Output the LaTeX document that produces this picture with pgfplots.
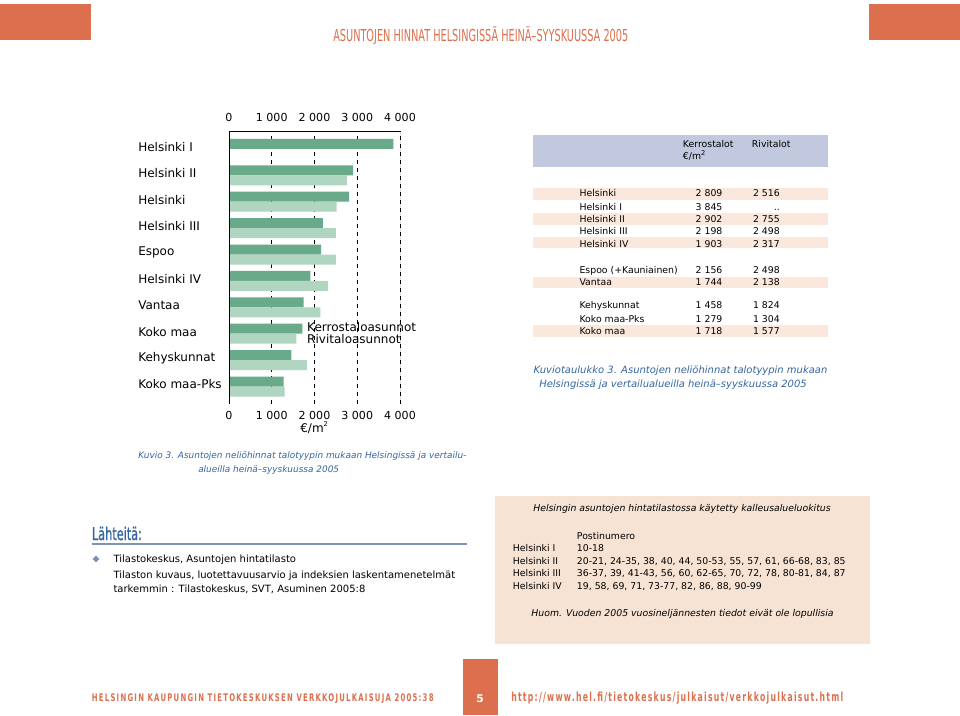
\documentclass[border=0pt]{standalone}
\usepackage{fontspec}
\setmainfont{DejaVu Sans}
\usepackage{graphicx}
\usepackage{pgfplots}
\pgfplotsset{compat=1.18}

\definecolor{darkbar}{RGB}{104,170,138}
\definecolor{lightbar}{RGB}{176,213,193}
\definecolor{hdrorange}{RGB}{220,112,78}
\definecolor{capblue}{RGB}{52,102,160}
\definecolor{tabhead}{RGB}{194,201,222}
\definecolor{tabrow}{RGB}{250,232,221}
\definecolor{boxfill}{RGB}{246,227,212}
\definecolor{rulegrey}{RGB}{128,146,178}
\definecolor{bulletc}{RGB}{128,142,190}

\newlength\px \setlength\px{0.75pt}
% width, height, phantom letter, text
\newcommand\fitbox[4]{\resizebox{#1\px}{#2\px}{\vphantom{#3}\smash{#4}}}
\newcommand\txt{\fontsize{7}{8.5}\selectfont}

\begin{document}
\begin{tikzpicture}
\begin{scope}[x=0.75pt,y=-0.75pt,shift={(0pt,536.25pt)}]
\fill[white] (0,0) rectangle (960,715);
\path[use as bounding box] (0,0) rectangle (960,715);
% header
\fill[hdrorange] (0,4) rectangle (91,40);
\fill[hdrorange] (869,4) rectangle (960,40);
\node[anchor=base west,inner sep=0,text=hdrorange] at (333,42)
  {\fitbox{295}{12}{A}{ASUNTOJEN HINNAT HELSINGISSÄ HEINÄ--SYYSKUUSSA 2005}};
% chart caption
\node[anchor=base west,inner sep=0,text=capblue,font=\fontsize{6.7}{8}\selectfont\itshape] at (138,458)
  {Kuvio 3. Asuntojen neliöhinnat talotyypin mukaan Helsingissä ja vertailu-};
\node[anchor=base west,inner sep=0,text=capblue,font=\fontsize{6.7}{8}\selectfont\itshape] at (198,472)
  {alueilla heinä--syyskuussa 2005};
% table
\fill[tabhead] (533,135) rectangle (828,167.5);
\foreach \a/\b in {188/200,213/225,237/248.5,277/288.5,325.5/337}
  \fill[tabrow] (533,\a) rectangle (828,\b);
\node[anchor=base west,inner sep=0,font=\txt] at (682.7,148) {Kerrostalot};
\node[anchor=base west,inner sep=0,font=\txt] at (682.7,160) {€/m\textsuperscript{\tiny 2}};
\node[anchor=base west,inner sep=0,font=\txt] at (751.7,148) {Rivitalot};
\foreach \lab/\yy/\k/\r in {Helsinki/193.3/2 809/2 516,Helsinki I/207/3 845/..,
  Helsinki II/219.3/2 902/2 755,Helsinki III/231.7/2 198/2 498,Helsinki IV/244.3/1 903/2 317,
  Espoo (+Kauniainen)/270/2 156/2 498,Vantaa/282.3/1 744/2 138,
  Kehyskunnat/305.7/1 458/1 824,Koko maa-Pks/319.3/1 279/1 304,Koko maa/331/1 718/1 577}{
  \node[anchor=base west,inner sep=0,font=\txt] at (579.3,\yy+3.3) {\lab};
  \node[anchor=base east,inner sep=0,font=\txt] at (722.7,\yy+3.3) {\k};
  \node[anchor=base east,inner sep=0,font=\txt] at (780,\yy+3.3) {\r};
}
\node[anchor=base,inner sep=0,text=capblue,font=\fontsize{7.5}{9}\selectfont\itshape] at (680.5,373)
  {Kuviotaulukko 3. Asuntojen neliöhinnat talotyypin mukaan};
\node[anchor=base,inner sep=0,text=capblue,font=\fontsize{7.5}{9}\selectfont\itshape] at (673,387)
  {Helsingissä ja vertailualueilla heinä--syyskuussa 2005};
% sources
\node[anchor=base west,inner sep=0,text=capblue] at (91.7,540)
  {\fitbox{50}{13.3}{h}{\addfontfeature{FakeBold=1.5}Lähteitä:}};
\draw[rulegrey,line width=1.3pt] (91.7,544) -- (466.7,544);
\fill[bulletc] (96,555.7) -- (99.3,559) -- (96,562.3) -- (92.7,559) -- cycle;
\node[anchor=base west,inner sep=0,font=\fontsize{7.5}{9}\selectfont] at (113.3,562.5) {Tilastokeskus, Asuntojen hintatilasto};
\node[anchor=base west,inner sep=0,font=\fontsize{7.5}{9}\selectfont] at (113.3,578.3) {Tilaston kuvaus, luotettavuusarvio ja indeksien laskentamenetelmät};
\node[anchor=base west,inner sep=0,font=\fontsize{7.5}{9}\selectfont] at (113.3,592.5) {tarkemmin : Tilastokeskus, SVT, Asuminen 2005:8};
% box
\fill[boxfill] (495,496) rectangle (870,644);
\node[anchor=base,inner sep=0,font=\txt\itshape] at (682,511.6)
  {Helsingin asuntojen hintatilastossa käytetty kalleusalueluokitus};
\node[anchor=base west,inner sep=0,font=\txt] at (576.7,539) {Postinumero};
\foreach \lab/\yy/\v in {Helsinki I/548.3/10-18,
  Helsinki II/560.8/{20-21, 24-35, 38, 40, 44, 50-53, 55, 57, 61, 66-68, 83, 85},
  Helsinki III/573.3/{36-37, 39, 41-43, 56, 60, 62-65, 70, 72, 78, 80-81, 84, 87},
  Helsinki IV/585.8/{19, 58, 69, 71, 73-77, 82, 86, 88, 90-99}}{
  \node[anchor=base west,inner sep=0,font=\txt] at (512.7,\yy+3.3) {\lab};
  \node[anchor=base west,inner sep=0,font=\txt] at (576.7,\yy+3.3) {\v};
}
\node[anchor=base,inner sep=0,font=\txt\itshape] at (682.5,616.6)
  {Huom. Vuoden 2005 vuosineljännesten tiedot eivät ole lopullisia};
% footer
\fill[hdrorange] (462.7,659) rectangle (497.7,715);
\node[anchor=base,inner sep=0,text=white,font=\bfseries\fontsize{8}{9}\selectfont] at (480.2,702) {5};
\node[anchor=base west,inner sep=0,text=hdrorange] at (91.7,701.7)
  {\fitbox{341.6}{7.6}{H}{\bfseries\addfontfeature{LetterSpace=18}HELSINGIN KAUPUNGIN TIETOKESKUKSEN VERKKOJULKAISUJA 2005:38}};
\node[anchor=base west,inner sep=0,text=hdrorange] at (511,701.7)
  {\fitbox{332}{9.5}{h}{\bfseries\addfontfeature{LetterSpace=16}http://www.hel.fi/tietokeskus/julkaisut/verkkojulkaisut.html}};
\end{scope}

% bar chart
\begin{axis}[
  at={(171.75pt,233.25pt)}, anchor=south west,
  width=128.25pt, height=204.4pt, scale only axis,
  xmin=0, xmax=4000, ymin=-0.663, ymax=9.663,
  xbar, bar width=7.5pt,
  axis line style={draw=none},
  major tick length=0pt,
  xtick={0,1000,2000,3000,4000},
  xticklabels={0,1 000,2 000,3 000,4 000},
  xmajorgrids, grid style={black,dashed,line width=0.6pt},
  xticklabel style={font=\fontsize{8.3}{10}\selectfont,anchor=base,inner sep=0pt,yshift=-11.25pt},
  ytick={0,...,9},
  yticklabels={Koko maa-Pks,Kehyskunnat,Koko maa,Vantaa,Helsinki IV,Espoo,Helsinki III,Helsinki,Helsinki II,Helsinki I},
  yticklabel style={font=\fontsize{9}{11}\selectfont,anchor=west,inner sep=0pt,xshift=-68.25pt,yshift=1.5pt},
  xlabel={€/m\textsuperscript{\tiny 2}},
  every axis x label/.style={at={(axis description cs:0.5,0)},anchor=base,yshift=-21pt,font=\fontsize{9}{11}\selectfont},
  legend style={draw=none,fill=none,at={(0.456,0.30)},anchor=north west,
    font=\fontsize{9}{11}\selectfont,inner sep=0pt,row sep=0pt,
    nodes={inner sep=0pt,text height=7pt,text depth=2pt}},
  legend cell align=left,
]
\addplot[fill=darkbar,draw=none,bar shift=3.75pt,forget plot] coordinates {
  (3845,9) (2902,8) (2809,7) (2198,6) (2156,5) (1903,4) (1744,3) (1718,2) (1458,1) (1279,0)};
\addplot[fill=lightbar,draw=none,bar shift=-3.75pt,forget plot] coordinates {
  (2755,8) (2516,7) (2498,6) (2498,5) (2317,4) (2138,3) (1577,2) (1824,1) (1304,0)};
\addlegendimage{empty legend}
\addlegendentry{Kerrostaloasunnot}
\addlegendimage{empty legend}
\addlegendentry{Rivitaloasunnot}
\draw[black,line width=0.75pt] (rel axis cs:0,0) -- (rel axis cs:0,1) -- (rel axis cs:1,1) -- (rel axis cs:1,0);
\end{axis}
% top tick labels
\begin{axis}[
  at={(171.75pt,233.25pt)}, anchor=south west,
  width=128.25pt, height=204.4pt, scale only axis,
  xmin=0, xmax=4000, ymin=0, ymax=1,
  axis line style={draw=none}, major tick length=0pt,
  ytick=\empty, xticklabel pos=upper,
  xtick={0,1000,2000,3000,4000},
  xticklabels={0,1 000,2 000,3 000,4 000},
  xticklabel style={font=\fontsize{8.3}{10}\selectfont,anchor=base,inner sep=0pt,yshift=7.1pt},
]
\end{axis}
\end{tikzpicture}
\end{document}
